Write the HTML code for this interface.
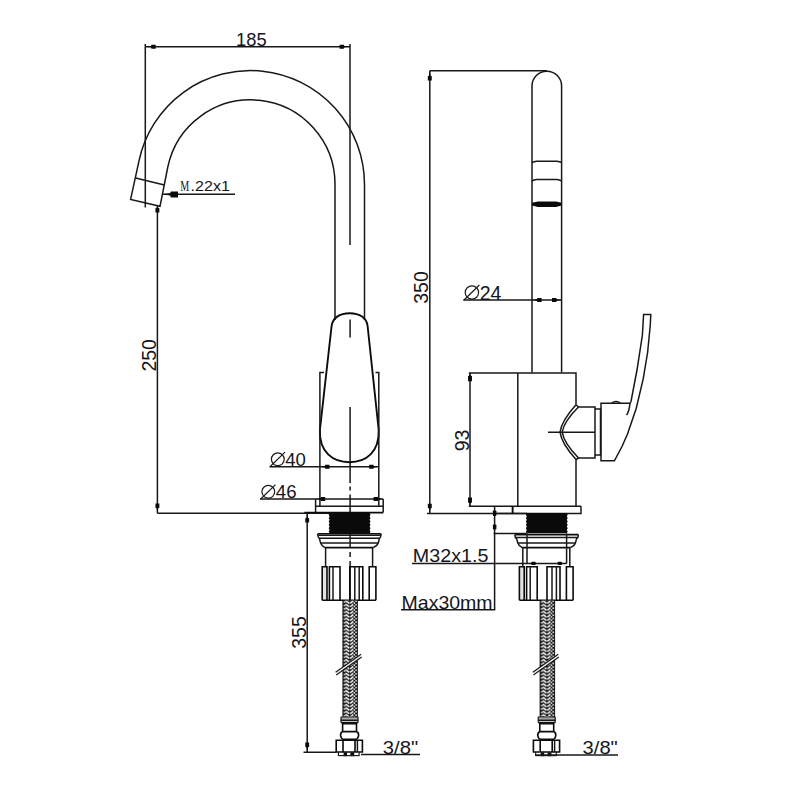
<!DOCTYPE html>
<html>
<head>
<meta charset="utf-8">
<title>Faucet drawing</title>
<style>
html,body{margin:0;padding:0;background:#fff;}
body{width:800px;height:800px;overflow:hidden;}
svg{display:block;}
text{font-family:"Liberation Sans",sans-serif;fill:#16161c;}
.l{fill:none;stroke:#181818;stroke-width:1.5;}
.t{fill:none;stroke:#1c1c1c;stroke-width:1.2;}
.h{fill:none;stroke:#0c0c0c;stroke-width:1.9;}
.h2{fill:none;stroke:#0c0c0c;stroke-width:1.6;}
.f{fill:#0a0a0a;stroke:none;}
</style>
</head>
<body>
<svg width="800" height="800" viewBox="0 0 800 800">
<defs>

<pattern id="braidL" x="342.4" y="600.4" width="15.50" height="3.45" patternUnits="userSpaceOnUse"><rect width="15.50" height="3.45" fill="#161616"/><rect x="1.5" y="0.8" width="1.6" height="1.6" fill="#f4f4f4"/><path d="M3.2 -3.25 L7.0 -0.45" stroke="#f4f4f4" stroke-width="1.6" fill="none"/><path d="M7.9 -0.55 L10.9 -3.05" stroke="#f4f4f4" stroke-width="1.6" fill="none"/><path d="M3.2 0.20 L7.0 3.00" stroke="#f4f4f4" stroke-width="1.6" fill="none"/><path d="M7.9 2.90 L10.9 0.40" stroke="#f4f4f4" stroke-width="1.6" fill="none"/><path d="M3.2 3.65 L7.0 6.45" stroke="#f4f4f4" stroke-width="1.6" fill="none"/><path d="M7.9 6.35 L10.9 3.85" stroke="#f4f4f4" stroke-width="1.6" fill="none"/><rect x="11.2" y="1.9" width="1.5" height="1.5" fill="#f4f4f4"/><rect x="12.9" y="0.2" width="1.5" height="1.5" fill="#f4f4f4"/></pattern>
<pattern id="braidR" x="539.6" y="600.4" width="15.50" height="3.45" patternUnits="userSpaceOnUse"><rect width="15.50" height="3.45" fill="#161616"/><rect x="1.5" y="0.8" width="1.6" height="1.6" fill="#f4f4f4"/><path d="M3.2 -3.25 L7.0 -0.45" stroke="#f4f4f4" stroke-width="1.6" fill="none"/><path d="M7.9 -0.55 L10.9 -3.05" stroke="#f4f4f4" stroke-width="1.6" fill="none"/><path d="M3.2 0.20 L7.0 3.00" stroke="#f4f4f4" stroke-width="1.6" fill="none"/><path d="M7.9 2.90 L10.9 0.40" stroke="#f4f4f4" stroke-width="1.6" fill="none"/><path d="M3.2 3.65 L7.0 6.45" stroke="#f4f4f4" stroke-width="1.6" fill="none"/><path d="M7.9 6.35 L10.9 3.85" stroke="#f4f4f4" stroke-width="1.6" fill="none"/><rect x="11.2" y="1.9" width="1.5" height="1.5" fill="#f4f4f4"/><rect x="12.9" y="0.2" width="1.5" height="1.5" fill="#f4f4f4"/></pattern>
</defs>
<rect width="800" height="800" fill="#fff"/>
<g id="left">
<path class="l" d="M145.3 44 V207.5 M350 44 V245 M145.3 46.7 H350"/>
<path class="f" d="M145.30 46.70 L150.90 46.05 L151.50 44.75 L155.70 44.75 L155.70 48.65 L151.50 48.65 L150.90 47.35Z"/>
<path class="f" d="M350.00 46.70 L344.40 47.35 L343.80 48.65 L339.60 48.65 L339.60 44.75 L343.80 44.75 L344.40 46.05Z"/>
<text x="251.30" y="45.60" font-size="19.0" text-anchor="middle" textLength="30.6" lengthAdjust="spacingAndGlyphs">185</text>
<path class="l" d="M364.5 320 V184.5 A114 114 0 0 0 139 160.8 L130.6 199.4 L160 206.3 L167.8 167 A84.5 84.5 0 0 1 335 184.5 V320"/>
<path class="l" d="M135.6 178.1 L164.4 185"/>
<path class="l" d="M163 194.3 H235"/>
<path class="f" d="M162.6 194.3 L170 193.2 L171 191.4 H178 V197.6 H171 L170 195.4Z"/>
<text x="180.3" y="190.6" font-size="15.5" style="font-family:'Liberation Serif',serif" textLength="9" lengthAdjust="spacingAndGlyphs">M</text>
<text x="190.60" y="190.60" font-size="15.0" text-anchor="start" textLength="39.4" lengthAdjust="spacingAndGlyphs">.22x1</text>
<path class="l" d="M157.4 206 V513.2 M157.4 513.2 H331"/>
<path class="f" d="M157.40 205.50 L158.05 207.70 L159.35 208.30 L159.35 212.50 L155.45 212.50 L155.45 208.30 L156.75 207.70Z"/>
<path class="f" d="M157.40 513.20 L156.75 508.40 L155.45 507.80 L155.45 503.60 L159.35 503.60 L159.35 507.80 L158.05 508.40Z"/>
<text x="0.00" y="0.00" font-size="19.5" text-anchor="middle" transform="translate(155.50 355.30) rotate(-90)">250</text>
<path class="l" d="M350.1 319.5 V337.5 M350.1 407 V483 M350.1 486.5 V490.5 M350.1 494.5 V547.5 M350.1 552 V557 M350.1 561 V600"/>
<path class="h" d="M331.6 326 C332.6 318 339.5 313.2 349.6 313.2 C359.8 313.2 366.6 318 367.6 326 L378.7 430 C379.5 452 366 462.2 349.4 462.2 C333 462.2 319 452 319.9 430 Z"/>
<path class="l" d="M324 372.5 H319.9 V506 M375.5 372.5 H378.8 V506"/>
<path class="l" d="M269.5 466.8 H378.8"/>
<path class="f" d="M319.90 466.80 L324.70 466.15 L325.30 464.85 L329.50 464.85 L329.50 468.75 L325.30 468.75 L324.70 467.45Z"/>
<path class="f" d="M378.80 466.80 L374.00 467.45 L373.40 468.75 L369.20 468.75 L369.20 464.85 L373.40 464.85 L374.00 466.15Z"/>
<circle class="t" cx="277.80" cy="459.30" r="6.40"/>
<path class="t" d="M270.20 466.50 L285.00 452.10"/>
<text x="285.20" y="465.80" font-size="18.6" text-anchor="start">40</text>
<path class="l" d="M260 499 H383.2"/>
<path class="f" d="M315.60 499.00 L320.40 498.35 L321.00 497.05 L325.20 497.05 L325.20 500.95 L321.00 500.95 L320.40 499.65Z"/>
<path class="f" d="M383.20 499.00 L378.40 499.65 L377.80 500.95 L373.60 500.95 L373.60 497.05 L377.80 497.05 L378.40 498.35Z"/>
<circle class="t" cx="268.30" cy="491.80" r="6.40"/>
<path class="t" d="M260.70 499.00 L275.50 484.60"/>
<text x="275.80" y="498.00" font-size="18.6" text-anchor="start">46</text>
<path class="l" d="M315.6 499 V512.6 M383.2 499 V512.6 M315.6 506.2 H383.2"/>
<path class="h2" d="M304.4 512.6 H383.2"/>
<path class="f" d="M329.60 513.00 L328.70 514.69 L329.60 516.38 L328.70 518.08 L329.60 519.77 L328.70 521.46 L329.60 523.15 L328.70 524.84 L329.60 526.53 L328.70 528.22 L329.60 529.92 L328.70 531.61 L329.60 533.30 L369.60 533.30 L370.50 531.61 L369.60 529.92 L370.50 528.22 L369.60 526.53 L370.50 524.84 L369.60 523.15 L370.50 521.46 L369.60 519.77 L370.50 518.08 L369.60 516.38 L370.50 514.69 L369.60 513.00Z"/>
<path class="h2" d="M317.60 533.80 H381.20"/>
<path class="l" d="M318.20 535.30 H380.60"/>
<path class="l" d="M319.20 538.2 H379.60"/>
<path class="l" d="M320.60 543 H378.20"/>
<path class="h2" d="M325.00 547.6 H373.20"/>
<path class="l" d="M317.60 533.80 L318.20 536.80 L319.40 538.6 L320.60 543 Q321.60 546 325.00 547.6"/>
<path class="l" d="M381.20 533.80 L380.60 536.80 L379.40 538.6 L378.20 543 Q377.20 546 373.20 547.6"/>
<path class="l" d="M325.60 547.6 V567 M372.60 547.6 V567"/>
<rect x="322.20" y="566.80" width="4.80" height="33.40" fill="#e4e4e4"/>
<path class="h2" d="M322.20 600.20 V566.80 H327.00 V600.20"/>
<path class="h2" d="M329.40 600.20 V566.80 H340.00 V600.20"/>
<path class="l" d="M333.00 566.80 V600.20"/>
<path class="h2" d="M349.80 600.20 V566.80 H362.80 V600.20"/>
<path class="l" d="M354.80 566.80 V600.20"/>
<path class="l" d="M359.20 566.80 V600.20"/>
<path class="h2" d="M369.20 600.20 V566.80 H375.90 V600.20"/>
<path class="h2" d="M322.20 600.20 H375.90"/>
<rect x="342.40" y="600.40" width="15.50" height="116.60" fill="url(#braidL)"/>
<path d="M336.60 672.90 L360.10 656.30" stroke="#eee" stroke-width="2.2" fill="none"/>
<path class="t" d="M335.60 672.20 L361.10 654.20 M336.20 675.10 L361.70 657.10" stroke="#4a4a4a" stroke-width="1"/>
<rect x="341.00" y="717.2" width="17.00" height="2.6" fill="#a8a8a8"/>
<path class="t" d="M340.80 717 H358.20 M341.00 716.8 V722.4 M358.00 716.8 V722.4"/>
<path class="l" d="M340.80 720.2 H358.20 M340.80 722.4 H358.20"/>
<path class="h2" d="M342.60 722.2 V731.8 M356.50 722.2 V731.8 M342.60 723.6 H356.50 M342.60 731.6 H356.50"/>
<path class="h2" d="M342.60 731.8 Q340.40 732.5 340.60 735.5 Q340.80 738.5 343.60 739.4 H355.60 Q358.40 738.5 358.60 735.5 Q358.80 732.5 356.50 731.8"/>
<path class="h2" d="M336.20 740.2 H362.40 V752 H336.20 Z"/>
<path class="h2" d="M343.00 740.2 V752 M355.00 740.2 V752"/>
<path class="l" d="M357.40 740.2 V752"/>
<path class="t" d="M338.40 752 V756 M359.10 752 V756"/>
<rect class="f" x="343.60" y="752.4" width="3.4" height="3.8"/>
<rect class="f" x="350.40" y="752.4" width="3.8" height="3.8"/>
<path class="t" d="M338.40 755.6 H359.10" stroke="#666"/>
<path class="l" d="M307.2 513 V752.2 M303.5 752.2 H336.4 M361 754.6 H420"/>
<path class="f" d="M307.20 513.00 L307.85 517.80 L309.15 518.40 L309.15 522.60 L305.25 522.60 L305.25 518.40 L306.55 517.80Z"/>
<path class="f" d="M307.20 752.20 L306.55 747.40 L305.25 746.80 L305.25 742.60 L309.15 742.60 L309.15 746.80 L307.85 747.40Z"/>
<text x="0.00" y="0.00" font-size="19.5" text-anchor="middle" transform="translate(305.50 632.50) rotate(-90)">355</text>
<text x="382.80" y="754.00" font-size="19.0" text-anchor="start" textLength="35.4" lengthAdjust="spacingAndGlyphs">3/8"</text>
</g>
<g id="right">
<path class="l" d="M429.8 70.8 V513.4 M429.8 70.8 H547 M427 513.4 H527"/>
<path class="f" d="M429.80 70.80 L430.45 75.60 L431.75 76.20 L431.75 80.40 L427.85 80.40 L427.85 76.20 L429.15 75.60Z"/>
<path class="f" d="M429.80 513.40 L429.15 508.60 L427.85 508.00 L427.85 503.80 L431.75 503.80 L431.75 508.00 L430.45 508.60Z"/>
<text x="0.00" y="0.00" font-size="19.5" text-anchor="middle" transform="translate(427.50 287.50) rotate(-90)">350</text>
<path class="l" d="M532 372.5 V86 A14.8 14.8 0 0 1 561.6 86 V372.5"/>
<path class="l" d="M532 162.5 Q534 161.6 536.5 161.2 H557 Q559.6 161.6 561.6 162.5 M532 181 Q534 180 536.5 179.6 H557 Q559.6 180 561.6 181"/>
<path class="f" d="M532 202.8 L538 201.4 H556 L561.6 202.8 V205.6 L556 207 H538 L532 205.6Z"/>
<path class="l" d="M463.3 300 H561.6"/>
<path class="f" d="M532.00 300.00 L536.80 299.35 L537.40 298.05 L541.60 298.05 L541.60 301.95 L537.40 301.95 L536.80 300.65Z"/>
<path class="f" d="M561.60 300.00 L556.80 300.65 L556.20 301.95 L552.00 301.95 L552.00 298.05 L556.20 298.05 L556.80 299.35Z"/>
<circle class="t" cx="471.90" cy="292.50" r="6.70"/>
<path class="t" d="M464.00 300.00 L479.40 285.00"/>
<text x="479.70" y="299.50" font-size="19.5" text-anchor="start">24</text>
<path class="l" d="M468.8 373 H576 V404.8 M576 459.6 V506 M470 373 V506.2 M468.8 506.2 H581 M517.8 373 V506.2"/>
<path class="f" d="M470.00 373.00 L470.65 375.50 L471.95 376.10 L471.95 381.30 L468.05 381.30 L468.05 376.10 L469.35 375.50Z"/>
<path class="f" d="M470.00 506.20 L469.35 503.00 L468.05 502.40 L468.05 497.60 L471.95 497.60 L471.95 502.40 L470.65 503.00Z"/>
<text x="0.00" y="0.00" font-size="19.5" text-anchor="middle" transform="translate(468.80 440.50) rotate(-90)">93</text>
<path class="l" d="M494.6 506.2 V610 M512.6 506.2 V513.4 M581 506.2 V513.4 H494"/>
<path class="h2" d="M512.6 506.2 V513.4"/>
<path class="f" d="M526.80 513.00 L525.90 514.69 L526.80 516.38 L525.90 518.08 L526.80 519.77 L525.90 521.46 L526.80 523.15 L525.90 524.84 L526.80 526.53 L525.90 528.22 L526.80 529.92 L525.90 531.61 L526.80 533.30 L566.80 533.30 L567.70 531.61 L566.80 529.92 L567.70 528.22 L566.80 526.53 L567.70 524.84 L566.80 523.15 L567.70 521.46 L566.80 519.77 L567.70 518.08 L566.80 516.38 L567.70 514.69 L566.80 513.00Z"/>
<path class="h2" d="M514.80 534.60 H578.40"/>
<path class="l" d="M515.40 537.40 H577.80"/>
<path class="l" d="M517.80 543 H575.40"/>
<path class="h2" d="M522.20 547.6 H570.40"/>
<path class="l" d="M514.80 534.60 L515.40 537.60 L516.60 538.6 L517.80 543 Q518.80 546 522.20 547.6"/>
<path class="l" d="M578.40 534.60 L577.80 537.60 L576.60 538.6 L575.40 543 Q574.40 546 570.40 547.6"/>
<path class="l" d="M522.80 547.6 V567 M569.80 547.6 V567"/>
<rect x="519.40" y="566.80" width="4.80" height="33.40" fill="#e4e4e4"/>
<path class="h2" d="M519.40 600.20 V566.80 H524.20 V600.20"/>
<path class="h2" d="M526.60 600.20 V566.80 H537.20 V600.20"/>
<path class="l" d="M530.20 566.80 V600.20"/>
<path class="h2" d="M547.00 600.20 V566.80 H560.00 V600.20"/>
<path class="l" d="M552.00 566.80 V600.20"/>
<path class="l" d="M556.40 566.80 V600.20"/>
<path class="h2" d="M566.40 600.20 V566.80 H573.10 V600.20"/>
<path class="h2" d="M519.40 600.20 H573.10"/>
<rect x="539.60" y="600.40" width="15.50" height="116.60" fill="url(#braidR)"/>
<path d="M533.80 672.90 L557.30 656.30" stroke="#eee" stroke-width="2.2" fill="none"/>
<path class="t" d="M532.80 672.20 L558.30 654.20 M533.40 675.10 L558.90 657.10" stroke="#4a4a4a" stroke-width="1"/>
<rect x="538.20" y="717.2" width="17.00" height="2.6" fill="#a8a8a8"/>
<path class="t" d="M538.00 717 H555.40 M538.20 716.8 V722.4 M555.20 716.8 V722.4"/>
<path class="l" d="M538.00 720.2 H555.40 M538.00 722.4 H555.40"/>
<path class="h2" d="M539.80 722.2 V731.8 M553.70 722.2 V731.8 M539.80 723.6 H553.70 M539.80 731.6 H553.70"/>
<path class="h2" d="M539.80 731.8 Q537.60 732.5 537.80 735.5 Q538.00 738.5 540.80 739.4 H552.80 Q555.60 738.5 555.80 735.5 Q556.00 732.5 553.70 731.8"/>
<path class="h2" d="M533.40 740.2 H559.60 V752 H533.40 Z"/>
<path class="h2" d="M540.20 740.2 V752 M552.20 740.2 V752"/>
<path class="l" d="M554.60 740.2 V752"/>
<path class="t" d="M535.60 752 V756 M556.30 752 V756"/>
<rect class="f" x="540.80" y="752.4" width="3.4" height="3.8"/>
<rect class="f" x="547.60" y="752.4" width="3.8" height="3.8"/>
<path class="t" d="M535.60 755.6 H556.30" stroke="#666"/>
<path class="l" d="M527 533.5 V563.4 M566.6 533.5 V563.4"/>
<path class="l" d="M493.6 533.6 H527"/>
<path class="l" d="M412 563.4 H566.6"/>
<rect class="f" x="531.3" y="561.8" width="4.4" height="3.2" rx="0.8"/>
<rect class="f" x="557.6" y="561.8" width="4.4" height="3.2" rx="0.8"/>
<text x="412.80" y="562.30" font-size="19.0" text-anchor="start" textLength="75.6" lengthAdjust="spacingAndGlyphs">M32x1.5</text>
<path class="l" d="M401 609.8 H495.2"/>
<text x="401.60" y="608.80" font-size="19.0" text-anchor="start" textLength="91.0" lengthAdjust="spacingAndGlyphs">Max30mm</text>
<rect class="f" x="492.9" y="510.4" width="3.5" height="5.6" rx="0.8"/>
<rect class="f" x="492.9" y="524.4" width="3.5" height="5.2" rx="0.8"/>
<path class="l" d="M535 755 H618"/>
<text x="582.60" y="754.40" font-size="19.0" text-anchor="start" textLength="35.2" lengthAdjust="spacingAndGlyphs">3/8"</text>
<path class="l" d="M576 404.8 L578.5 407 H595 V458 H578.5 L576 459.6"/>
<path class="l" d="M576 404.8 Q561.5 421 560 432.2 Q561.5 443.5 576 459.6 M578.5 407 Q563.8 421.5 562.2 432.2 Q563.8 443 578.5 458"/>
<path class="l" d="M548 432.2 H595 M595 409 H600.5 V455 H595"/>
<path class="l" d="M601 403.3 H630 L631 401.5 L637 370 L642.4 335 L643.6 314.5 H650.8 L650.2 326 L647.6 352.5 L643.2 378.8 L636.2 408.5 L627.5 434 L622 446.5 L614.4 460.8 H601 Z"/>
<path class="l" d="M630 403.3 Q629 412 626.5 415 M611.7 403 Q616 400 620.5 403"/>
</g>
</svg>
</body>
</html>
